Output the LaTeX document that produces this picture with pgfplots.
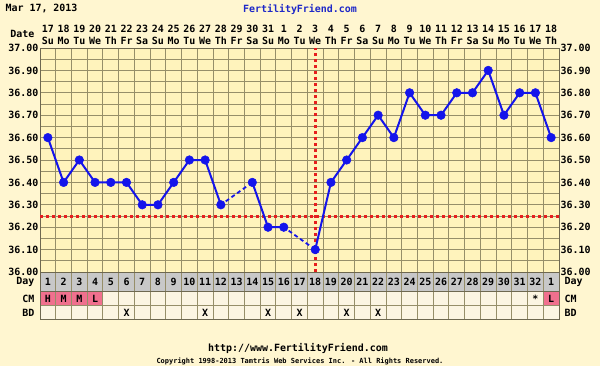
\documentclass[border=0pt]{standalone}
\usepackage{fontspec}
\setmainfont{DejaVu Sans Mono}
\usepackage{pgfplots}
\pgfplotsset{compat=1.18}
\definecolor{bgout}{RGB}{255,246,208}
\definecolor{plotbg}{RGB}{255,243,188}
\definecolor{gridc}{RGB}{150,142,105}
\definecolor{framec}{RGB}{110,104,80}
\definecolor{cellc}{RGB}{252,245,226}
\definecolor{dayc}{RGB}{200,200,200}
\definecolor{pinkc}{RGB}{240,112,142}
\definecolor{bluec}{RGB}{20,20,235}
\definecolor{redc}{RGB}{230,30,30}
\definecolor{titleblue}{RGB}{30,40,200}
\newcommand{\lf}{\bfseries\fontsize{10}{10}\selectfont}
\begin{document}
\begin{tikzpicture}
\fill[bgout] (0,0) rectangle (600bp,-366bp);
\path[use as bounding box] (0,0) rectangle (600bp,-366bp);
\pgfplotsset{
  commonax/.style={
    at={(40bp,-272bp)}, anchor=south west,
    width=519bp, height=224bp, scale only axis,
    xmin=0.5, xmax=33.5, ymin=36, ymax=37,
    ytick={36.0,36.1,36.2,36.3,36.4,36.5,36.6,36.7,36.8,36.9,37.0},
    tick style={draw=none},
    yticklabel={\pgfmathprintnumber[fixed,fixed zerofill,precision=2]{\tick}},
    /pgf/number format/assume math mode=true,
    yticklabel style={font=\lf, inner sep=1.5bp},
  }
}
\begin{axis}[commonax,
  axis background/.style={fill=plotbg},
  xtick={0.5,1.5,...,33.5}, xticklabels={},
  minor ytick={36.05,36.15,36.25,36.35,36.45,36.55,36.65,36.75,36.85,36.95},
  grid=both,
  major grid style={gridc, line width=1bp},
  minor grid style={gridc, line width=1bp},
  axis line style={framec, line width=1bp},
]
\addplot[redc, line width=3bp, dash pattern=on 3bp off 3bp] coordinates {(0.5,36.25) (33.5,36.25)};
\addplot[redc, line width=3bp, dash pattern=on 3bp off 3bp] coordinates {(18,36) (18,37)};
\addplot[bluec, line width=1.8bp, dash pattern=on 4bp off 3bp, shorten <=6bp, shorten >=6bp] coordinates {(12,36.3) (14,36.4)};
\addplot[bluec, line width=1.8bp, dash pattern=on 4bp off 3bp, shorten <=6bp, shorten >=6bp] coordinates {(16,36.2) (18,36.1)};
\addplot[bluec, line width=2bp, mark=*, mark size=4.3bp, mark options={fill=bluec, draw=bluec, line width=0.5bp}] coordinates {
(1,36.6)(2,36.4)(3,36.5)(4,36.4)(5,36.4)(6,36.4)(7,36.3)(8,36.3)(9,36.4)(10,36.5)(11,36.5)(12,36.3)};
\addplot[bluec, line width=2bp, mark=*, mark size=4.3bp, mark options={fill=bluec, draw=bluec, line width=0.5bp}] coordinates {
(14,36.4)(15,36.2)(16,36.2)};
\addplot[bluec, line width=2bp, mark=*, mark size=4.3bp, mark options={fill=bluec, draw=bluec, line width=0.5bp}] coordinates {
(18,36.1)(19,36.4)(20,36.5)(21,36.6)(22,36.7)(23,36.6)(24,36.8)(25,36.7)(26,36.7)(27,36.8)(28,36.8)(29,36.9)(30,36.7)(31,36.8)(32,36.8)(33,36.6)};
\end{axis}
\begin{axis}[commonax,
  axis x line=none, axis y line*=right,
  y axis line style={draw=none},
]
\addplot[draw=none] coordinates {(1,36.5)};
\end{axis}
% header
\node[anchor=west, font=\lf] at (2bp,-9bp) {Mar 17, 2013};
\node[font=\lf, text=titleblue] at (300bp,-9bp) {FertilityFriend.com};
\node[anchor=east, font=\lf] at (38bp,-34bp) {Date};
\foreach \d [count=\c] in {17,18,19,20,21,22,23,24,25,26,27,28,29,30,31,1,2,3,4,5,6,7,8,9,10,11,12,13,14,15,16,17,18}{
  \pgfmathsetmacro\xx{40+(\c-0.5)*15.7273}
  \node[font=\lf] at (\xx bp,-29bp) {\d};
}
\foreach \d [count=\c] in {Su,Mo,Tu,We,Th,Fr,Sa,Su,Mo,Tu,We,Th,Fr,Sa,Su,Mo,Tu,We,Th,Fr,Sa,Su,Mo,Tu,We,Th,Fr,Sa,Su,Mo,Tu,We,Th}{
  \pgfmathsetmacro\xx{40+(\c-0.5)*15.7273}
  \node[font=\lf] at (\xx bp,-41bp) {\d};
}
% table
\fill[dayc] (40bp,-272bp) rectangle (559bp,-291bp);
\fill[cellc] (40bp,-291bp) rectangle (559bp,-319bp);
\foreach \c in {1,2,3,4,33}{
  \pgfmathsetmacro\xa{40+(\c-1)*15.7273}
  \pgfmathsetmacro\xb{40+\c*15.7273}
  \fill[pinkc] (\xa bp,-291bp) rectangle (\xb bp,-305bp);
}
\foreach \c in {1,...,32}{
  \pgfmathsetmacro\xa{40+\c*15.7273}
  \draw[gridc, line width=1bp] (\xa bp,-272bp) -- (\xa bp,-319bp);
}
\draw[framec, line width=1bp] (40bp,-291bp) -- (559bp,-291bp);
\draw[gridc, line width=1bp] (40bp,-305bp) -- (559bp,-305bp);
\draw[framec, line width=1bp] (40bp,-272bp) rectangle (559bp,-319bp);
\foreach \d [count=\c] in {1,2,3,4,5,6,7,8,9,10,11,12,13,14,15,16,17,18,19,20,21,22,23,24,25,26,27,28,29,30,31,32,1}{
  \pgfmathsetmacro\xx{40+(\c-0.5)*15.7273}
  \node[font=\lf] at (\xx bp,-282bp) {\d};
}
\foreach \c/\t in {1/H,2/M,3/M,4/L,32/*,33/L}{
  \pgfmathsetmacro\xx{40+(\c-0.5)*15.7273}
  \node[font=\lf] at (\xx bp,-298.5bp) {\t};
}
\foreach \c in {6,11,15,17,20,22}{
  \pgfmathsetmacro\xx{40+(\c-0.5)*15.7273}
  \node[font=\lf] at (\xx bp,-312.5bp) {X};
}
\node[anchor=east, font=\lf] at (38bp,-282bp) {Day};
\node[anchor=east, font=\lf] at (38bp,-298.5bp) {CM};
\node[anchor=east, font=\lf] at (38bp,-312.5bp) {BD};
\node[anchor=west, font=\lf] at (561bp,-282bp) {Day};
\node[anchor=west, font=\lf] at (561bp,-298.5bp) {CM};
\node[anchor=west, font=\lf] at (561bp,-312.5bp) {BD};
% footer
\node[font=\lf] at (298bp,-348bp) {http://www.FertilityFriend.com};
\node[font=\bfseries\fontsize{7}{7}\selectfont] at (300bp,-361bp) {Copyright 1998-2013 Tamtris Web Services Inc. - All Rights Reserved.};
\end{tikzpicture}
\end{document}
